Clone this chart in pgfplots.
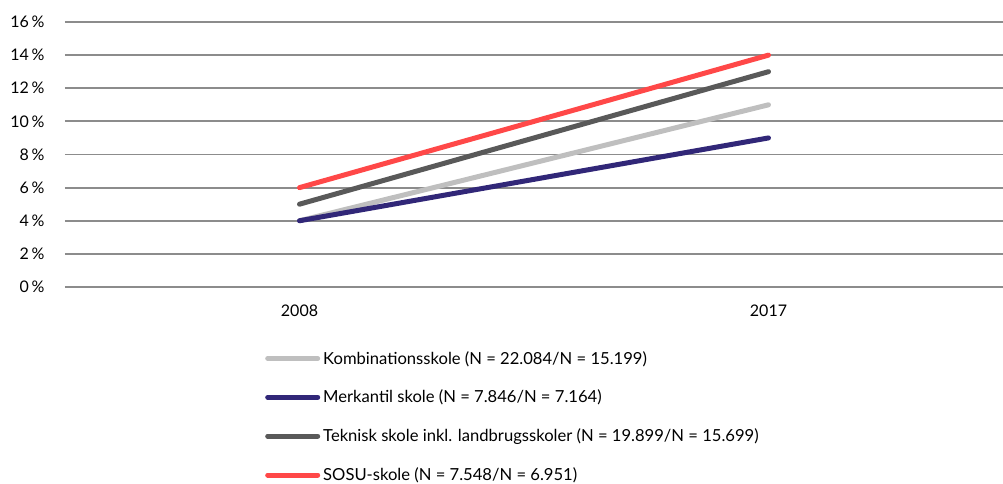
\documentclass[border=0pt]{standalone}
\usepackage{pgfplots}
\pgfplotsset{compat=1.18}
\usepackage{fontspec}
\setmainfont{Lato}
\definecolor{cKomb}{RGB}{191,191,191}
\definecolor{cMerk}{RGB}{49,39,120}
\definecolor{cTek}{RGB}{89,89,89}
\definecolor{cSosu}{RGB}{255,72,72}
\definecolor{cGrid}{RGB}{140,140,140}
\begin{document}
\begin{tikzpicture}
\useasboundingbox (-65pt,-197pt) rectangle (938pt,287pt);
\begin{axis}[
  at={(0pt,0pt)}, anchor=south west,
  scale only axis, width=938pt, height=265pt,
  xmin=-0.5, xmax=1.5, ymin=0, ymax=16,
  xtick={0,1}, xticklabels={2008,2017},
  ytick={0,2,...,16},
  yticklabel={\pgfmathprintnumber{\tick}\,\%},
  /pgf/number format/assume math mode=true,
  axis line style={draw=none},
  major tick length=0pt,
  ymajorgrids, grid style={cGrid, line width=1.8pt},
  tick label style={font=\fontsize{16}{19}\selectfont, text=black},
  yticklabel style={xshift=-17pt},
  xticklabel style={yshift=-14pt},
  legend style={at={(200pt,-62pt)}, anchor=north west, draw=none, fill=none,
    font=\fontsize{16.6}{19}\selectfont, row sep=20.5pt, inner sep=0pt,
    /tikz/every even column/.append style={column sep=0pt}},
  legend cell align=left,
  legend image code/.code={\draw[#1, line width=5pt, line cap=round] (0pt,0pt) -- (50pt,0pt);},
  every axis plot/.append style={line width=5pt, line cap=round},
]
\addplot[cKomb, no markers] coordinates {(0,4) (1,11)};
\addlegendentry{\hspace{1pt}Kombinationsskole (N = 22.084/N = 15.199)}
\addplot[cMerk, no markers] coordinates {(0,4) (1,9)};
\addlegendentry{\hspace{1pt}Merkantil skole (N = 7.846/N = 7.164)}
\addplot[cTek, no markers] coordinates {(0,5) (1,13)};
\addlegendentry{\hspace{1pt}Teknisk skole inkl. landbrugsskoler (N = 19.899/N = 15.699)}
\addplot[cSosu, no markers] coordinates {(0,6) (1,14)};
\addlegendentry{\hspace{1pt}SOSU-skole (N = 7.548/N = 6.951)}
\end{axis}
\end{tikzpicture}
\end{document}
